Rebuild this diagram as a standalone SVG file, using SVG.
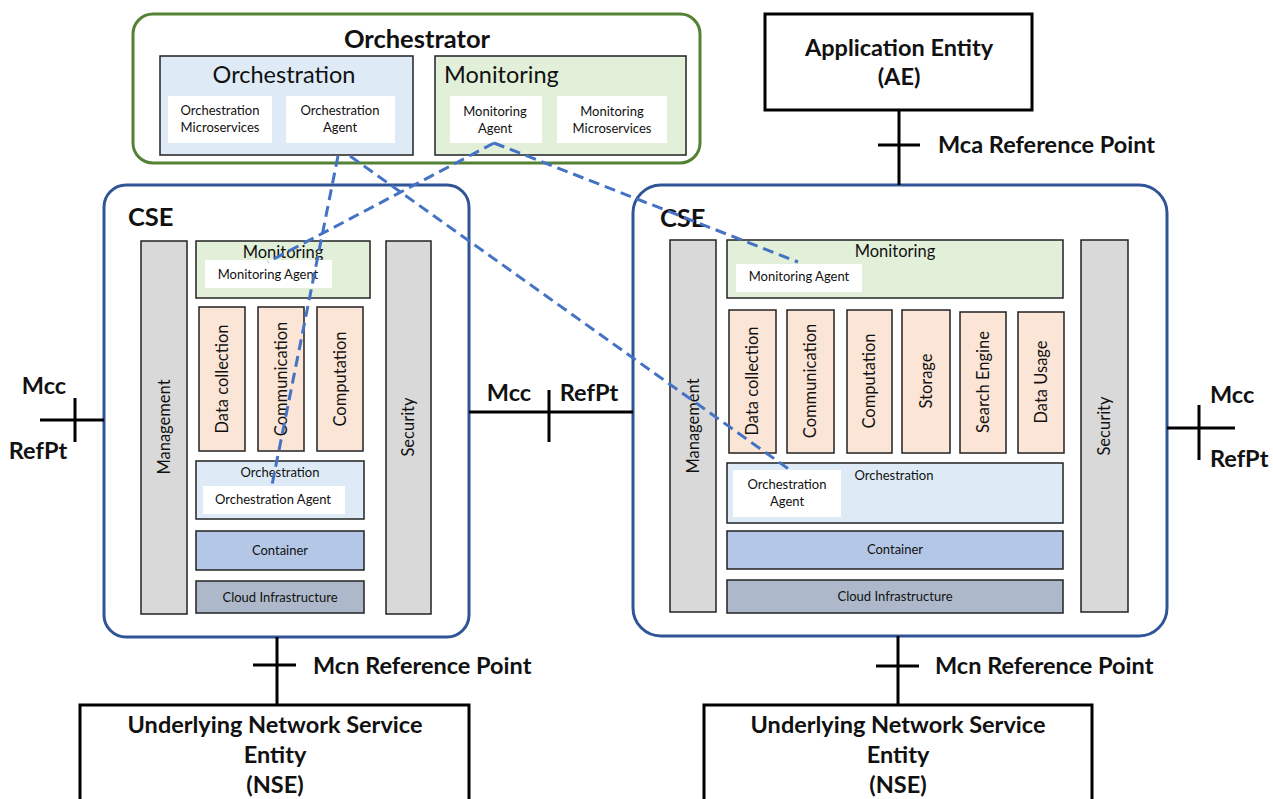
<svg xmlns="http://www.w3.org/2000/svg" width="1273" height="799" viewBox="0 0 1273 799">
  <style>
    text { font-family: Lato, "Open Sans", "Liberation Sans", sans-serif; fill: #111; }
    .b { font-weight: bold; }
    .mid { text-anchor: middle; }
    .outerGreen { fill: #fff; stroke: #548235; stroke-width: 3; }
    .outerBlue { fill: #fff; stroke: #2f5597; stroke-width: 3; }
    .entity { fill: #fff; stroke: #000; stroke-width: 3; }
    .sub { stroke: #222; stroke-width: 1.5; }
    .lblue { fill: #deebf7; }
    .lgreen { fill: #e2f0d9; }
    .grey { fill: #d9d9d9; }
    .peach { fill: #fbe5d6; }
    .cont { fill: #b4c7e7; }
    .cloud { fill: #adb9ca; }
    .white { fill: #fff; stroke: none; }
    .ref { stroke: #000; stroke-width: 3; fill: none; }
    .dash { stroke: #4472c4; stroke-width: 3; stroke-dasharray: 11 6; fill: none; }
    .t22 { font-size: 23.5px; }
    .t24 { font-size: 25.5px; }
    .t23 { font-size: 23.5px; }
    .t16 { font-size: 16.5px; }
    .t13 { font-size: 13px; }
    .t12 { font-size: 13px; }
  </style>

  <!-- Orchestrator -->
  <g id="orchestrator">
    <rect class="outerGreen" x="133" y="14" width="567" height="149" rx="20"/>
    <text class="b t24 mid" x="417" y="48">Orchestrator</text>
    <g id="orch-orchestration">
      <rect class="sub lblue" x="160" y="56" width="253" height="99"/>
      <text class="t23 mid" x="284" y="83">Orchestration</text>
      <rect class="white" x="168" y="96" width="104" height="47"/>
      <text class="t13 mid" x="220" y="115">Orchestration</text>
      <text class="t13 mid" x="220" y="132">Microservices</text>
      <rect class="white" x="286" y="96" width="109" height="47"/>
      <text class="t13 mid" x="340" y="115">Orchestration</text>
      <text class="t13 mid" x="340" y="132">Agent</text>
    </g>
    <g id="orch-monitoring">
      <rect class="sub lgreen" x="435" y="56" width="251" height="99"/>
      <text class="t23" x="444" y="83">Monitoring</text>
      <rect class="white" x="450" y="96" width="92" height="47"/>
      <text class="t13 mid" x="495" y="116">Monitoring</text>
      <text class="t13 mid" x="495" y="133">Agent</text>
      <rect class="white" x="557" y="96" width="110" height="47"/>
      <text class="t13 mid" x="612" y="116">Monitoring</text>
      <text class="t13 mid" x="612" y="133">Microservices</text>
    </g>
  </g>

  <!-- Application Entity -->
  <g id="ae">
    <rect class="entity" x="765" y="14" width="267" height="96"/>
    <text class="b t22 mid" x="899" y="56">Application Entity</text>
    <text class="b t22 mid" x="899" y="85">(AE)</text>
  </g>

  <!-- Left CSE -->
  <g id="cse-left">
    <rect class="outerBlue" x="104" y="185" width="365" height="452" rx="22"/>
    <text class="b t24" x="128" y="226">CSE</text>
    <rect class="sub grey" x="141" y="241" width="46" height="373"/>
    <text class="t16 mid" transform="translate(170 427) rotate(-90)">Management</text>
    <rect class="sub grey" x="386" y="241" width="45" height="373"/>
    <text class="t16 mid" transform="translate(414 427) rotate(-90)">Security</text>

    <rect class="sub lgreen" x="196" y="241" width="174" height="57"/>
    <text class="t16 mid" x="283" y="258">Monitoring</text>
    <rect class="white" x="205" y="260" width="127" height="28"/>
    <text class="t13 mid" x="268" y="279">Monitoring Agent</text>

    <rect class="sub peach" x="199" y="307" width="46" height="144"/>
    <text class="t16 mid" transform="translate(228 379) rotate(-90)">Data collection</text>
    <rect class="sub peach" x="258" y="307" width="46" height="144"/>
    <text class="t16 mid" transform="translate(287 379) rotate(-90)">Communication</text>
    <rect class="sub peach" x="317" y="307" width="46" height="144"/>
    <text class="t16 mid" transform="translate(346 379) rotate(-90)">Computation</text>

    <rect class="sub lblue" x="196" y="461" width="168" height="58"/>
    <text class="t13 mid" x="280" y="477">Orchestration</text>
    <rect class="white" x="203" y="486" width="142" height="28"/>
    <text class="t13 mid" x="273" y="504">Orchestration Agent</text>

    <rect class="sub cont" x="196" y="531" width="168" height="39"/>
    <text class="t12 mid" x="280" y="555">Container</text>
    <rect class="sub cloud" x="196" y="581" width="168" height="32"/>
    <text class="t12 mid" x="280" y="602">Cloud Infrastructure</text>
  </g>

  <!-- Right CSE -->
  <g id="cse-right">
    <rect class="outerBlue" x="633" y="185" width="534" height="451" rx="28"/>
    <text class="b t24" x="660" y="227">CSE</text>
    <rect class="sub grey" x="670" y="240" width="46" height="372"/>
    <text class="t16 mid" transform="translate(699 426) rotate(-90)">Management</text>
    <rect class="sub grey" x="1081" y="240" width="47" height="372"/>
    <text class="t16 mid" transform="translate(1110 426) rotate(-90)">Security</text>

    <rect class="sub lgreen" x="727" y="240" width="336" height="58"/>
    <text class="t16 mid" x="895" y="257">Monitoring</text>
    <rect class="white" x="736" y="264" width="126" height="28"/>
    <text class="t13 mid" x="799" y="281">Monitoring Agent</text>

    <rect class="sub peach" x="729" y="310" width="47" height="143"/>
    <text class="t16 mid" transform="translate(758 381) rotate(-90)">Data collection</text>
    <rect class="sub peach" x="787" y="310" width="47" height="143"/>
    <text class="t16 mid" transform="translate(816 381) rotate(-90)">Communication</text>
    <rect class="sub peach" x="847" y="310" width="45" height="143"/>
    <text class="t16 mid" transform="translate(875 381) rotate(-90)">Computation</text>
    <rect class="sub peach" x="902" y="310" width="48" height="143"/>
    <text class="t16 mid" transform="translate(932 381) rotate(-90)">Storage</text>
    <rect class="sub peach" x="960" y="312" width="46" height="141"/>
    <text class="t16 mid" transform="translate(989 382) rotate(-90)">Search Engine</text>
    <rect class="sub peach" x="1018" y="312" width="46" height="141"/>
    <text class="t16 mid" transform="translate(1047 382) rotate(-90)">Data Usage</text>

    <rect class="sub lblue" x="727" y="463" width="336" height="60"/>
    <text class="t13 mid" x="894" y="480">Orchestration</text>
    <rect class="white" x="733" y="470" width="108" height="47"/>
    <text class="t13 mid" x="787" y="489">Orchestration</text>
    <text class="t13 mid" x="787" y="506">Agent</text>

    <rect class="sub cont" x="727" y="531" width="336" height="38"/>
    <text class="t12 mid" x="895" y="554">Container</text>
    <rect class="sub cloud" x="727" y="580" width="336" height="33"/>
    <text class="t12 mid" x="895" y="601">Cloud Infrastructure</text>
  </g>

  <!-- Underlying network service entities -->
  <g id="nse-left">
    <rect class="entity" x="80" y="705" width="389" height="110"/>
    <text class="b t22 mid" x="275" y="733">Underlying Network Service</text>
    <text class="b t22 mid" x="275" y="763">Entity</text>
    <text class="b t22 mid" x="275" y="793">(NSE)</text>
  </g>
  <g id="nse-right">
    <rect class="entity" x="704" y="705" width="388" height="110"/>
    <text class="b t22 mid" x="898" y="733">Underlying Network Service</text>
    <text class="b t22 mid" x="898" y="763">Entity</text>
    <text class="b t22 mid" x="898" y="793">(NSE)</text>
  </g>

  <!-- Reference points and agent links -->
  <g id="connectors">
    <!-- Mca: AE to right CSE -->
    <path class="ref" d="M899 110 V185 M878 145 H920"/>
    <text class="b t22" x="938" y="153">Mca Reference Point</text>

    <!-- Mcc on the left -->
    <path class="ref" d="M40 420 H104 M75 398 V442"/>
    <text class="b t22 mid" x="44" y="394">Mcc</text>
    <text class="b t22 mid" x="38" y="459">RefPt</text>

    <!-- Mcc between CSEs -->
    <path class="ref" d="M469 412 H633 M549 390 V442"/>
    <text class="b t22 mid" x="509" y="401">Mcc</text>
    <text class="b t22 mid" x="589" y="401">RefPt</text>

    <!-- Mcc on the right -->
    <path class="ref" d="M1167 428 H1235 M1199 405 V460"/>
    <text class="b t22" x="1210" y="403">Mcc</text>
    <text class="b t22" x="1210" y="467">RefPt</text>

    <!-- Mcn: CSEs to NSEs -->
    <path class="ref" d="M277 637 V705 M253 665 H296"/>
    <text class="b t22" x="313" y="674">Mcn Reference Point</text>
    <path class="ref" d="M898 636 V705 M876 666 H919"/>
    <text class="b t22" x="935" y="674">Mcn Reference Point</text>

    <!-- dashed agent links -->
    <path class="dash" d="M338 156 L272 485"/>
    <path class="dash" d="M350 156 L790 470"/>
    <path class="dash" d="M494 143 L268 262"/>
    <path class="dash" d="M494 143 L798 262"/>
  </g>
</svg>
